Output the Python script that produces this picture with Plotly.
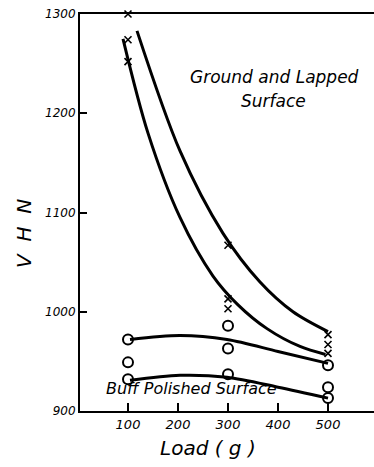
import plotly.graph_objects as go

# Marker data (Load in g, VHN)
ground_x_load = [100, 100, 100, 300, 300, 300, 500, 500, 500]
ground_x_vhn = [1300, 1274, 1252, 1067, 1013, 1003, 977, 967, 958]

buff_o_load = [100, 100, 100, 300, 300, 300, 500, 500, 500]
buff_o_vhn = [972, 949, 932, 986, 963, 937, 946, 924, 913]

# Fitted curves
gl_upper_load = [118, 204, 290, 364, 430, 500]
gl_upper_vhn = [1283, 1162, 1079, 1030, 1000, 980]

gl_lower_load = [90, 140, 204, 270, 320, 378, 444, 495]
gl_lower_vhn = [1275, 1180, 1095, 1036, 1007, 983, 965, 957]

bp_upper_load = [104, 204, 298, 400, 500]
bp_upper_vhn = [972, 976, 972, 960, 948]

bp_lower_load = [104, 204, 298, 400, 500]
bp_lower_vhn = [931, 936, 934, 924, 913]

x_ticks = [100, 200, 300, 400, 500]
y_ticks = [900, 1000, 1100, 1200, 1300]

FONT = "DejaVu Sans"
W, H = 374, 467
L, R, T, B = 80, 0, 14, 56

fig = go.Figure()
for xs, ys in [(gl_upper_load, gl_upper_vhn), (gl_lower_load, gl_lower_vhn),
               (bp_upper_load, bp_upper_vhn), (bp_lower_load, bp_lower_vhn)]:
    fig.add_trace(go.Scatter(x=xs, y=ys, mode="lines",
                             line=dict(color="black", width=3, shape="spline", smoothing=0.9),
                             showlegend=False, hoverinfo="skip"))

fig.add_trace(go.Scatter(x=ground_x_load, y=ground_x_vhn, mode="markers",
                         marker=dict(symbol="x-thin", size=7, line=dict(color="black", width=1.6)),
                         showlegend=False, cliponaxis=False))
fig.add_trace(go.Scatter(x=buff_o_load, y=buff_o_vhn, mode="markers",
                         marker=dict(symbol="circle-open", size=10, color="black", line=dict(width=2)),
                         showlegend=False, cliponaxis=False))

def px_to_paper(px, py):
    return (px - L) / (W - L - R), (H - B - py) / (H - B - T)

annots = [
    ("Ground and Lapped", 274, 77, 17, 0),
    ("Surface", 273, 101, 17, 0),
    ("Buff Polished Surface", 191, 388, 16, 0),
    ("Load ( g )", 208, 448, 20, 0),
    ("V  H  N", 24, 234, 20, -90),
]
for txt, px, py, sz, ang in annots:
    ax, ay = px_to_paper(px, py)
    fig.add_annotation(x=ax, y=ay, xref="paper", yref="paper", text=f"<i>{txt}</i>",
                       showarrow=False, textangle=ang,
                       font=dict(family=FONT, size=sz, color="black"),
                       xanchor="center", yanchor="middle")

fig.update_layout(
    width=W, height=H,
    margin=dict(l=L, r=R, t=T, b=B, autoexpand=False),
    paper_bgcolor="white", plot_bgcolor="white",
    font=dict(family=FONT, color="black"),
    xaxis=dict(range=[4, 592], tickvals=x_ticks, ticktext=[f"<i>{v}</i>" for v in x_ticks],
               ticks="inside", ticklen=8, tickwidth=1.5, tickcolor="black",
               showline=True, linecolor="black", linewidth=2, mirror=True,
               showgrid=False, zeroline=False, tickfont=dict(size=13)),
    yaxis=dict(range=[900, 1300], tickvals=y_ticks, ticktext=[f"<i>{v}</i>" for v in y_ticks],
               ticks="inside", ticklen=7, tickwidth=1.5, tickcolor="black",
               showline=True, linecolor="black", linewidth=2,
               showgrid=False, zeroline=False, tickfont=dict(size=12)),
)

fig.write_html("out.html", config={"displayModeBar": False},
               post_script="document.body.style.margin='0';")
